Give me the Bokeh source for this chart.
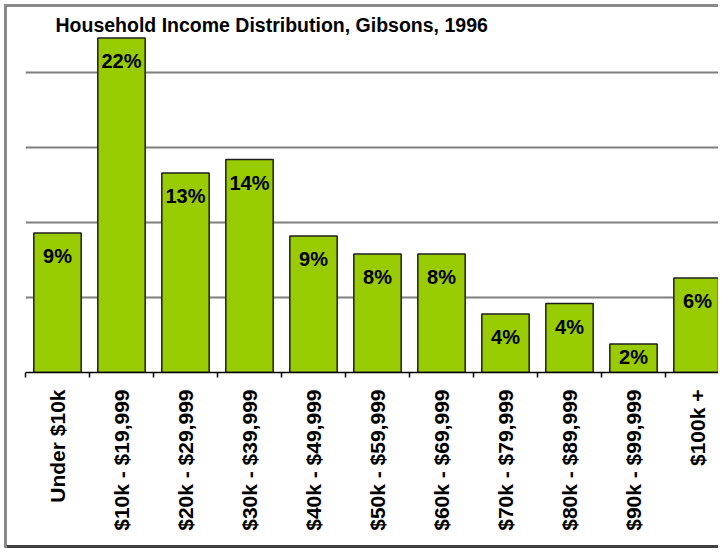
from math import pi
from bokeh.plotting import figure
from bokeh.models import Range1d, FixedTicker, Grid, ColumnDataSource, Label, LabelSet
from bokeh.core.properties import value
from bokeh.embed import file_html
from bokeh.resources import INLINE

title_text = "Household Income Distribution, Gibsons, 1996"
categories = ["Under $10k", "$10k - $19,999", "$20k - $29,999", "$30k - $39,999",
              "$40k - $49,999", "$50k - $59,999", "$60k - $69,999", "$70k - $79,999",
              "$80k - $89,999", "$90k - $99,999", "$100k +"]
shares = [9.3, 22.3, 13.3, 14.2, 9.1, 7.9, 7.9, 3.9, 4.6, 1.9, 6.3]
share_labels = ["9%", "22%", "13%", "14%", "9%", "8%", "8%", "4%", "4%", "2%", "6%"]
gridlines = [5, 10, 15, 20]

n = len(categories)
centers = [i + 0.5 for i in range(n)]
bounds = list(range(n + 1))
# labels sit inside the bar; very short bars get the label pushed near the top edge
label_offsets = [-12 if s >= 3 else -2 for s in shares]

src = ColumnDataSource(dict(x=centers, top=shares, label=share_labels,
                            cat=categories, yoff=label_offsets))

p = figure(width=718, height=548, output_backend="svg", toolbar_location=None,
           x_range=Range1d(0, 10.828), y_range=Range1d(0, 24.8),
           y_axis_location=None, min_border_left=25, min_border_right=0,
           min_border_top=0, min_border_bottom=176)

for g in p.grid:
    g.visible = False
p.add_layout(Grid(dimension=1, ticker=FixedTicker(ticks=gridlines),
                  grid_line_color="#7f7f7f", grid_line_width=2))

p.outline_line_color = None
p.border_fill_color = None
p.background_fill_color = None
p.styles = {"box-shadow": "inset 4px 4px 0 #ffffff, inset 7px 7px 0 #8a8a8a, inset 0 -3px 0 #404040"}

p.vbar(x="x", top="top", width=0.74, source=src,
       fill_color="#99cc00", line_color="#1f1f1f", line_width=1.5)

p.add_layout(LabelSet(x="x", y="top", text="label", source=src,
                      text_align="center", text_baseline="top", y_offset="yoff",
                      text_font=value("Liberation Sans"), text_font_style="bold",
                      text_font_size="20px", text_color="black"))

p.add_layout(Label(x=0.469, y=23.2, text=title_text, text_align="left",
                   text_baseline="alphabetic", text_font="Liberation Sans",
                   text_font_style="bold", text_font_size="19.5px", text_color="black"))

ax = p.xaxis[0]
ax.ticker = FixedTicker(ticks=centers, minor_ticks=bounds)
ax.major_label_overrides = {c: t for c, t in zip(centers, categories)}
ax.major_tick_line_color = None
ax.major_tick_out = 0
ax.major_tick_in = 0
ax.minor_tick_out = 5
ax.minor_tick_in = 0
ax.minor_tick_line_color = "black"
ax.minor_tick_line_width = 1.5
ax.axis_line_color = "black"
ax.axis_line_width = 1.5
ax.major_label_orientation = pi / 2
ax.major_label_standoff = 12
ax.major_label_text_font = "Liberation Sans"
ax.major_label_text_font_style = "bold"
ax.major_label_text_font_size = "21px"
ax.major_label_text_color = "black"

open("out.html", "w").write(file_html(p, INLINE))
